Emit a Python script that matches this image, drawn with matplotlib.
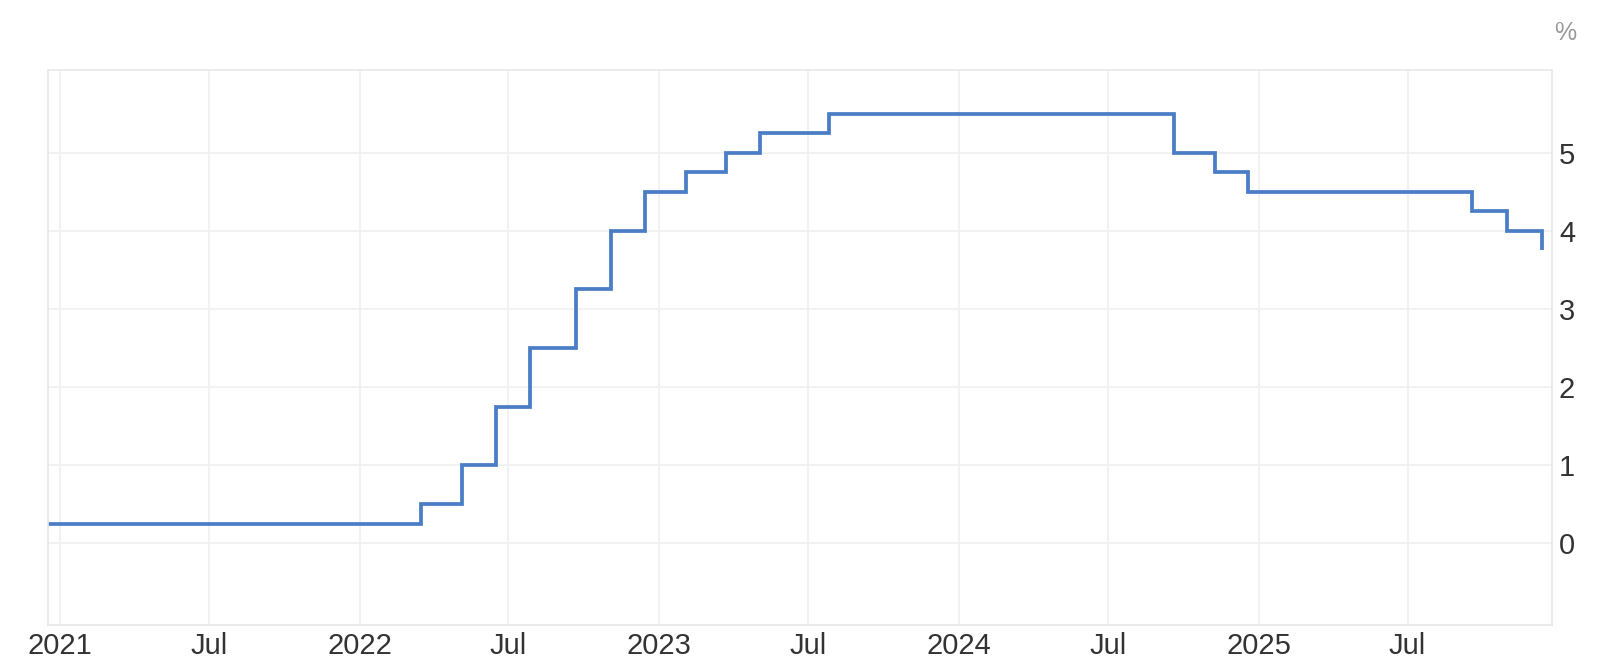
import numpy as np
import pandas as pd
import matplotlib
matplotlib.use("Agg")
import matplotlib.pyplot as plt

plt.rcParams['font.family'] = ['Liberation Sans', 'DejaVu Sans']

# Fed funds target rate (upper bound), change dates
change_dates = ["2020-12-17", "2022-03-17", "2022-05-05", "2022-06-16", "2022-07-28",
                "2022-09-22", "2022-11-03", "2022-12-15", "2023-02-02", "2023-03-23",
                "2023-05-04", "2023-07-27", "2024-09-19", "2024-11-08", "2024-12-19",
                "2025-09-18", "2025-10-30", "2025-12-12"]
rates = [0.25, 0.50, 1.00, 1.75, 2.50, 3.25, 4.00, 4.50, 4.75, 5.00,
         5.25, 5.50, 5.00, 4.75, 4.50, 4.25, 4.00, 3.75]

x_ticks = ["2021-01-01", "2021-07-01", "2022-01-01", "2022-07-01", "2023-01-01",
           "2023-07-01", "2024-01-01", "2024-07-01", "2025-01-01", "2025-07-01"]
x_labels = ["2021", "Jul", "2022", "Jul", "2023", "Jul", "2024", "Jul", "2025", "Jul"]
y_ticks = [0, 1, 2, 3, 4, 5]

dates = pd.to_datetime(change_dates)

fig = plt.figure(figsize=(16, 6.7), dpi=100)
ax = fig.add_axes([0.03, 0.067, 0.94, 0.8285])

ax.step(dates, rates, where='post', color='#4a7dc5', linewidth=2.7,
        solid_joinstyle='miter', solid_capstyle='butt')

ax.set_xlim(pd.Timestamp("2020-12-17"), pd.Timestamp("2025-12-24"))
ax.set_ylim(-1.05, 6.06)

ax.set_xticks(pd.to_datetime(x_ticks))
ax.set_xticklabels(x_labels)
ax.set_yticks(y_ticks)
ax.yaxis.tick_right()

ax.tick_params(axis='both', length=0, labelsize=21, colors='#333333')
ax.tick_params(axis='y', pad=5)
ax.tick_params(axis='x', pad=5)

ax.grid(True, color='#f0f0f0', linewidth=1.2)
ax.set_axisbelow(True)
for s in ax.spines.values():
    s.set_color('#e8e8e8')
    s.set_linewidth(1.2)

fig.text(0.978, 0.95, "%", color='#999999', fontsize=18, ha='center', va='center')

fig.savefig("out.png", dpi=100)
